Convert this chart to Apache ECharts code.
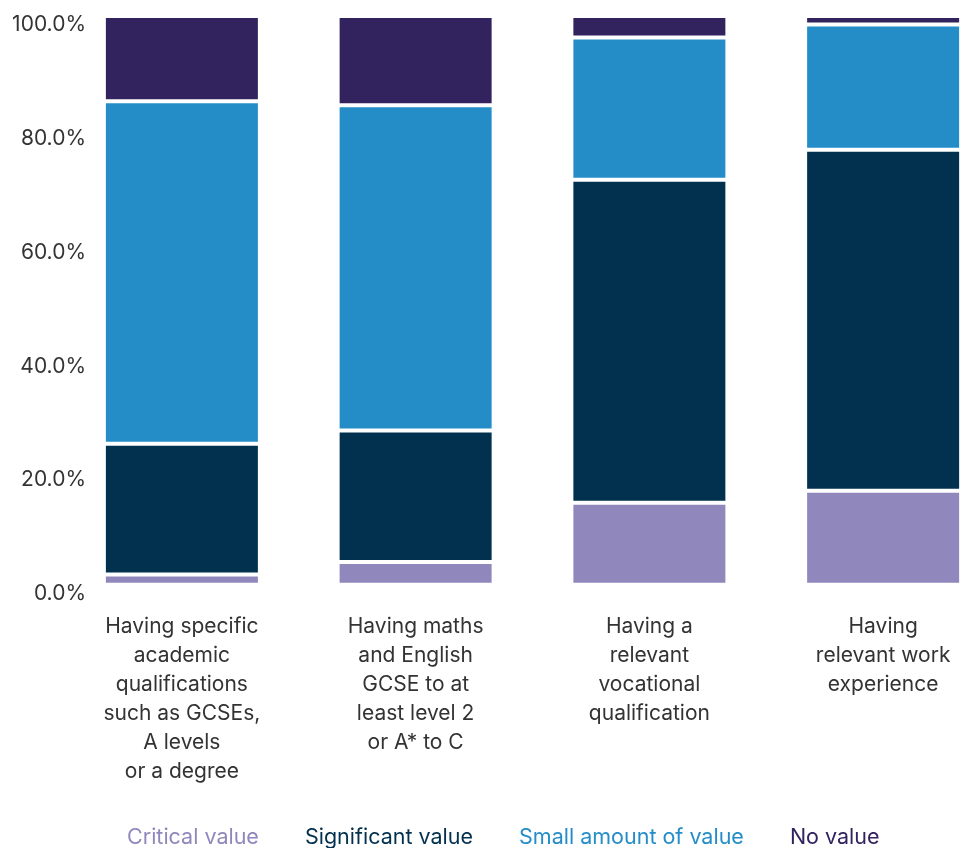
<!DOCTYPE html>
<html>
<head>
<meta charset="utf-8">
<script src="https://cdn.jsdelivr.net/npm/echarts@6/dist/echarts.min.js"></script>
<style>
html,body{margin:0;padding:0;background:#fff;overflow:hidden;width:979px;height:848px;}
#c{width:1000px;height:848px;}
</style>
</head>
<body>
<div id="c"></div>
<script>
var categories = [
  "Having specific\nacademic\nqualifications\nsuch as GCSEs,\nA levels\nor a degree",
  "Having maths\nand English\nGCSE to at\nleast level 2\nor A* to C",
  "Having a\nrelevant\nvocational\nqualification",
  "Having\nrelevant work\nexperience"
];
var seriesNames = ["Critical value", "Significant value", "Small amount of value", "No value"];
var critical = [1.8, 4.0, 14.4, 16.5];
var significant = [23.0, 23.1, 56.8, 60.0];
var small = [60.2, 57.2, 25.0, 22.0];
var noValue = [15.0, 15.7, 3.8, 1.5];
var yTicks = [0, 20, 40, 60, 80, 100];

var colors = ["#9087BD", "#02304F", "#248DC8", "#32235F"];
var values = [critical, significant, small, noValue];
var FONT = "Inter";
var FS = 21;

var chart = echarts.init(document.getElementById('c'), null, {renderer: 'canvas'});
var series = seriesNames.map(function (n, i) {
  return {
    name: n,
    type: 'bar',
    stack: 'total',
    data: values[i],
    barWidth: 156,
    itemStyle: {color: colors[i], borderColor: '#ffffff', borderWidth: 2},
    emphasis: {disabled: true}
  };
});
chart.setOption({
  animation: false,
  textStyle: {fontFamily: FONT},
  grid: {left: 65, right: 0, top: 16, bottom: 263.3, containLabel: false},
  legend: {
    top: 822,
    left: 116,
    itemWidth: 0,
    itemHeight: 0,
    itemGap: 40,
    icon: 'rect',
    selectedMode: false,
    data: seriesNames.map(function (n, i) {
      return {name: n, textStyle: {color: colors[i], fontSize: 21.5, fontFamily: FONT}};
    })
  },
  xAxis: {
    type: 'category',
    data: categories,
    axisLine: {show: false},
    axisTick: {show: false},
    axisLabel: {
      interval: 0,
      margin: 27,
      color: '#333333',
      fontSize: FS,
      lineHeight: 29,
      fontFamily: FONT,
      align: 'center'
    }
  },
  yAxis: {
    type: 'value',
    min: yTicks[0],
    max: yTicks[yTicks.length - 1],
    interval: 20,
    splitLine: {show: false},
    axisLine: {show: false},
    axisTick: {show: false},
    axisLabel: {
      margin: -21,
      color: '#333333',
      fontSize: FS,
      fontFamily: FONT,
      verticalAlign: 'top',
      lineHeight: 18,
      formatter: function (v) { return v.toFixed(1) + '%'; }
    }
  },
  series: series
});
</script>
</body>
</html>
